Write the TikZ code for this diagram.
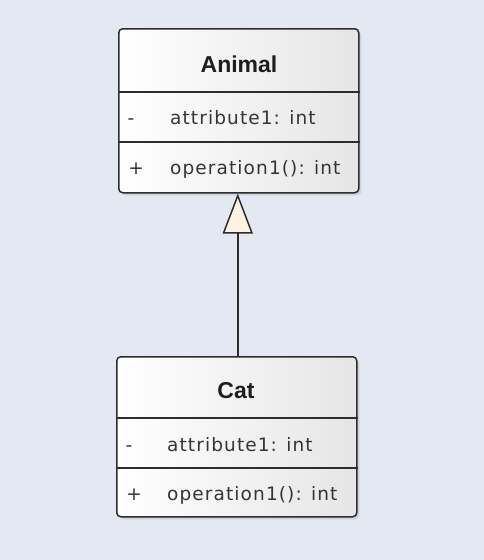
\documentclass[tikz,border=0pt]{standalone}
\usepackage{fontspec}
\setmainfont{Liberation Sans}
\newfontfamily\memberfont[LetterSpace=6]{DejaVu Sans}
\usetikzlibrary{arrows.meta,shadows}
\definecolor{bg}{RGB}{227,232,242}
\definecolor{edge}{RGB}{45,45,45}
\definecolor{tri}{RGB}{253,243,226}
\definecolor{txt}{RGB}{30,30,30}
\begin{document}
\begin{tikzpicture}[x=1pt,y=-1pt,
  classbox/.style={draw=edge, line width=1.5pt, rounded corners=4pt,
    left color=white, right color=black!10,
    drop shadow={shadow xshift=2.5pt,shadow yshift=-2.5pt,opacity=0.22},
    minimum width=240pt, inner sep=0pt, anchor=north west},
  divider/.style={draw=edge, line width=1.5pt},
  title/.style={font=\fontsize{23}{26}\selectfont\bfseries, text=txt, inner sep=0pt, anchor=base},
  member/.style={font=\memberfont\fontsize{18.5}{22}\selectfont, text=txt!90, inner sep=0pt, anchor=base west},
  vis/.style={font=\memberfont\fontsize{18.5}{22}\selectfont, text=txt!90, inner sep=0pt, anchor=base},
  general/.style={draw=edge, line width=1.5pt, -{Triangle[length=40pt, width=30pt, fill=tri]}}
]
\useasboundingbox (0,0) rectangle (484,560);
\fill[bg] (0,0) rectangle (484,560);

% Animal
\node[classbox, minimum height=164pt] (animal) at (118,28) {};
\draw[divider] ([yshift=-64pt]animal.north west) -- ([yshift=-64pt]animal.north east);
\draw[divider] ([yshift=-114pt]animal.north west) -- ([yshift=-114pt]animal.north east);
\node[title] (animalname) at (239,72.5) {Animal};
\node[vis] (animalv1) at (131,124.5) {-};
\node[member] (animalattr) at (170,124.5) {attribute1: int};
\node[vis] (animalv2) at (136,174) {+};
\node[member] (animalop) at (170,174) {operation1(): int};

% Cat
\node[classbox, minimum height=160pt] (cat) at (116,356) {};
\draw[divider] ([yshift=-62pt]cat.north west) -- ([yshift=-62pt]cat.north east);
\draw[divider] ([yshift=-112pt]cat.north west) -- ([yshift=-112pt]cat.north east);
\node[title] (catname) at (236,398) {Cat};
\node[vis] (catv1) at (129,451) {-};
\node[member] (catattr) at (167,451) {attribute1: int};
\node[vis] (catv2) at (134,500) {+};
\node[member] (catop) at (167,500) {operation1(): int};

% Generalization
\draw[general] ([xshift=1pt]cat.north) -- ([xshift=1pt]cat.north |- animal.south);
\end{tikzpicture}
\end{document}
